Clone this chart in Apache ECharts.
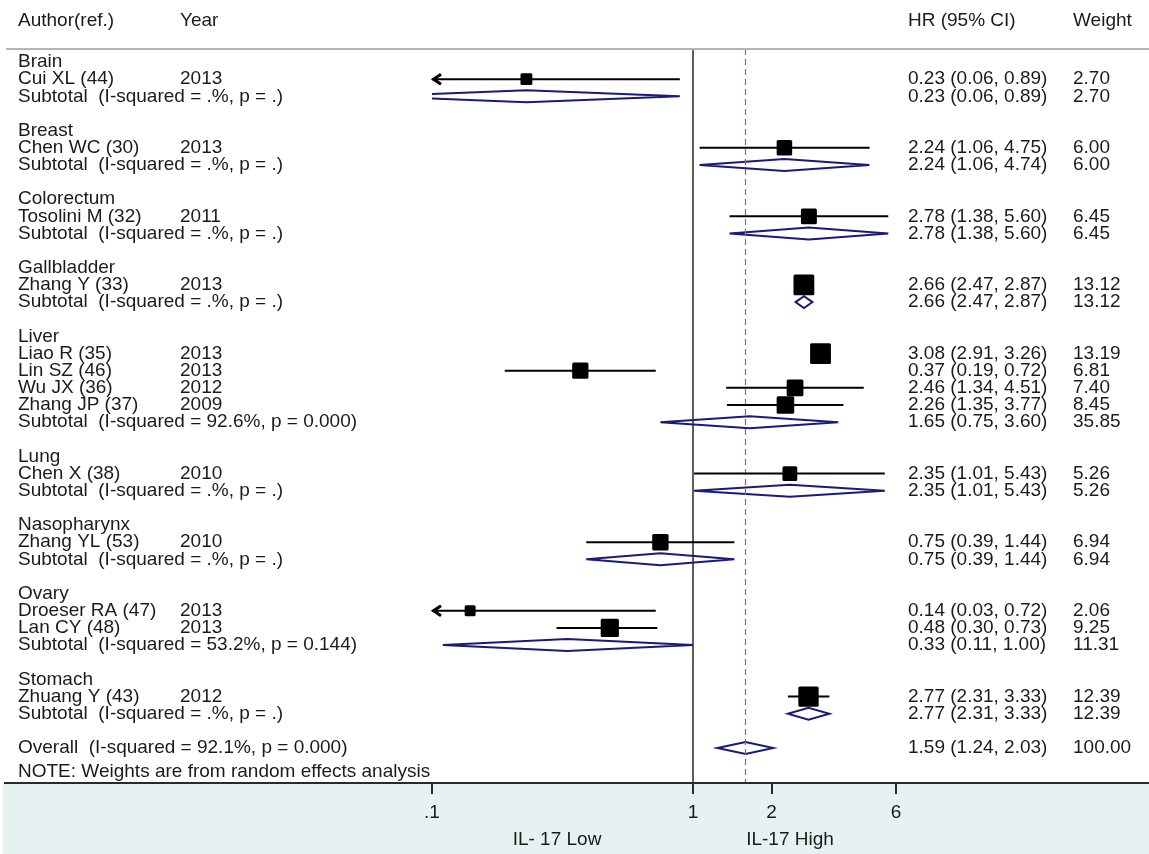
<!DOCTYPE html>
<html>
<head>
<meta charset="utf-8">
<title>IL-17 forest plot</title>
<script src="https://cdn.jsdelivr.net/npm/echarts@6/dist/echarts.min.js"></script>
<style>
  html, body { margin: 0; padding: 0; background: #ffffff; }
  #chart { width: 1149px; height: 854px; }
</style>
</head>
<body>
<div id="chart"></div>
<script>
// ---- Subgroups (tumour sites) ----
const groups = ['Brain', 'Breast', 'Colorectum', 'Gallbladder', 'Liver', 'Lung', 'Nasopharynx', 'Ovary', 'Stomach'];

// ---- Individual studies ----
const studyAuthors = ['Cui XL (44)', 'Chen WC (30)', 'Tosolini M (32)', 'Zhang Y (33)', 'Liao R (35)', 'Lin SZ (46)',
  'Wu JX (36)', 'Zhang JP (37)', 'Chen X (38)', 'Zhang YL (53)', 'Droeser RA (47)', 'Lan CY (48)', 'Zhuang Y (43)'];
const studyYears  = [2013, 2013, 2011, 2013, 2013, 2013, 2012, 2009, 2010, 2010, 2013, 2013, 2012];
const studyGroup  = [0, 1, 2, 3, 4, 4, 4, 4, 5, 6, 7, 7, 8];
const studyHR     = [0.23, 2.24, 2.78, 2.66, 3.08, 0.37, 2.46, 2.26, 2.35, 0.75, 0.14, 0.48, 2.77];
const studyLo     = [0.06, 1.06, 1.38, 2.47, 2.91, 0.19, 1.34, 1.35, 1.01, 0.39, 0.03, 0.30, 2.31];
const studyHi     = [0.89, 4.75, 5.60, 2.87, 3.26, 0.72, 4.51, 3.77, 5.43, 1.44, 0.72, 0.73, 3.33];
const studyWeight = [2.70, 6.00, 6.45, 13.12, 13.19, 6.81, 7.40, 8.45, 5.26, 6.94, 2.06, 9.25, 12.39];

// ---- Pooled subgroup estimates ----
const subHR     = [0.23, 2.24, 2.78, 2.66, 1.65, 2.35, 0.75, 0.33, 2.77];
const subLo     = [0.06, 1.06, 1.38, 2.47, 0.75, 1.01, 0.39, 0.11, 2.31];
const subHi     = [0.89, 4.74, 5.60, 2.87, 3.60, 5.43, 1.44, 1.00, 3.33];
const subWeight = [2.70, 6.00, 6.45, 13.12, 35.85, 5.26, 6.94, 11.31, 12.39];
const subI2     = ['.', '.', '.', '.', '92.6', '.', '.', '53.2', '.'];
const subP      = ['.', '.', '.', '.', '0.000', '.', '.', '0.144', '.'];

// ---- Overall random-effects estimate ----
const overallHR = 1.59, overallLo = 1.24, overallHi = 2.03, overallWeight = 100.00;
const overallI2 = '92.1', overallP = '0.000';

// ---- Axis ----
const tickValues = [0.1, 1, 2, 6];
const tickLabels = ['.1', '1', '2', '6'];
const sideLabels = ['IL- 17 Low', 'IL-17 High'];

// ---- Styling ----
const FONT_FAMILY = '"Liberation Sans", Arial, sans-serif';
const FONT_SIZE = 19;
const FONT = FONT_SIZE + 'px ' + FONT_FAMILY;
const TEXT = '#1b1b1b';
const NAVY = '#1a1a78';
const X_MIN = tickValues[0], X_MAX = tickValues[tickValues.length - 1];
const COL = { label: 18, year: 180, ci: 908, weight: 1073 };

const fmtCI = (hr, lo, hi) => hr.toFixed(2) + ' (' + lo.toFixed(2) + ', ' + hi.toFixed(2) + ')';
const fmtHet = (i2, p) => '(I-squared = ' + i2 + '%, p = ' + p + ')';

// Lay out the table rows: subgroup heading, its studies, its subtotal, a gap
const textRows = [];
const studyRow = [], subRow = [];
let r = 0;
groups.forEach((g, gi) => {
  textRows.push({ row: r, label: g });
  r++;
  studyGroup.forEach((sg, si) => {
    if (sg !== gi) return;
    studyRow[si] = r;
    textRows.push({
      row: r, label: studyAuthors[si], year: String(studyYears[si]),
      ci: fmtCI(studyHR[si], studyLo[si], studyHi[si]), weight: studyWeight[si].toFixed(2)
    });
    r++;
  });
  subRow[gi] = r;
  textRows.push({
    row: r, label: 'Subtotal  ' + fmtHet(subI2[gi], subP[gi]),
    ci: fmtCI(subHR[gi], subLo[gi], subHi[gi]), weight: subWeight[gi].toFixed(2)
  });
  r += 2;
});
const overallRow = r;
textRows.push({
  row: overallRow, label: 'Overall  ' + fmtHet(overallI2, overallP),
  ci: fmtCI(overallHR, overallLo, overallHi), weight: overallWeight.toFixed(2)
});
textRows.push({ row: overallRow + 1.4, label: 'NOTE: Weights are from random effects analysis' });

// Row r sits at 62 + 17.15*r px; the plotting band runs from y=49 to y=783
const ROW_H = 17.15, ROW0 = 62, PLOT_TOP = 49, PLOT_BOTTOM = 783;
const Y_MIN = (PLOT_TOP - ROW0) / ROW_H;
const Y_MAX = (PLOT_BOTTOM - ROW0) / ROW_H;

// Box side grows with the square root of the study weight (box area ~ weight)
const boxSide = w => 4.5 * Math.sqrt(w) + 4.5;

const chart = echarts.init(document.getElementById('chart'), null, { renderer: 'canvas' });

const diamondData = subHR.map((hr, i) => [hr, subRow[i], subLo[i], subHi[i]])
  .concat([[overallHR, overallRow, overallLo, overallHi]]);

const headerText = (x, s) => ({ type: 'text', x: x, y: 21, style: { text: s, font: FONT, fill: TEXT, verticalAlign: 'middle' } });

// Arrowhead marking a confidence limit that runs past the axis range
const arrowHead = (x, y, dir) => ({
  type: 'polyline',
  shape: { points: [[x + dir * 9, y - 5], [x + dir * 1.5, y], [x + dir * 9, y + 5]] },
  style: { stroke: '#000000', lineWidth: 3, fill: 'none', lineJoin: 'miter' }
});

chart.setOption({
  backgroundColor: '#ffffff',
  animation: false,
  grid: { left: 432, top: PLOT_TOP, width: 261 * (1 + Math.log10(X_MAX)), height: PLOT_BOTTOM - PLOT_TOP },
  xAxis: {
    type: 'log', logBase: 10, min: X_MIN, max: X_MAX, position: 'bottom',
    axisLine: { show: false, onZero: false },
    splitLine: { show: false },
    axisTick: { show: true, customValues: tickValues, length: 11, lineStyle: { color: '#2a2a2a', width: 2 } },
    axisLabel: {
      show: true, customValues: tickValues, margin: 20,
      color: TEXT, fontSize: FONT_SIZE, fontFamily: FONT_FAMILY,
      formatter: v => {
        const i = tickValues.findIndex(t => Math.abs(Math.log10(t) - Math.log10(v)) < 1e-6);
        return i >= 0 ? tickLabels[i] : '';
      }
    }
  },
  yAxis: {
    type: 'value', inverse: true, min: Y_MIN, max: Y_MAX, show: false,
    splitLine: { show: false }
  },
  graphic: [
    { type: 'rect', z: -10, shape: { x: 3, y: PLOT_BOTTOM, width: 1146, height: 854 - PLOT_BOTTOM }, style: { fill: '#e6f1f2' } },
    { type: 'line', z: 10, shape: { x1: 4, y1: PLOT_BOTTOM, x2: 1149, y2: PLOT_BOTTOM }, style: { stroke: '#2a2a2a', lineWidth: 2 } },
    { type: 'line', z: 10, shape: { x1: 6, y1: PLOT_TOP, x2: 1149, y2: PLOT_TOP }, style: { stroke: '#b4b4b4', lineWidth: 2 } },
    headerText(COL.label, 'Author(ref.)'),
    headerText(COL.year, 'Year'),
    headerText(COL.ci, 'HR (95% CI)'),
    headerText(COL.weight, 'Weight'),
    { type: 'text', x: 557, y: 840, style: { text: sideLabels[0], font: FONT, fill: TEXT, align: 'center', verticalAlign: 'middle' } },
    { type: 'text', x: 790, y: 840, style: { text: sideLabels[1], font: FONT, fill: TEXT, align: 'center', verticalAlign: 'middle' } }
  ],
  series: [
    // Table text: labels, years, HR (95% CI), weights
    {
      type: 'custom', name: 'table', coordinateSystem: 'cartesian2d', clip: false, silent: true, z: 3,
      data: textRows.map(d => [1, d.row]),
      encode: { x: 0, y: 1 },
      renderItem: (params, api) => {
        const d = textRows[params.dataIndex];
        const y = api.coord([1, api.value(1)])[1];
        const children = [];
        const put = (x, s) => {
          if (s) children.push({ type: 'text', x: x, y: y, style: { text: s, font: FONT, fill: TEXT, align: 'left', verticalAlign: 'middle' } });
        };
        put(COL.label, d.label);
        put(COL.year, d.year);
        put(COL.ci, d.ci);
        put(COL.weight, d.weight);
        return { type: 'group', children: children };
      }
    },
    // Pooled estimates as open diamonds
    {
      type: 'custom', name: 'pooled', coordinateSystem: 'cartesian2d', clip: true, silent: true, z: 4,
      data: diamondData,
      encode: { x: 0, y: 1 },
      renderItem: (params, api) => {
        const row = api.value(1);
        const c = api.coord([api.value(0), row]);
        const l = api.coord([api.value(2), row]);
        const h = api.coord([api.value(3), row]);
        const half = 6;
        return {
          type: 'polygon',
          shape: { points: [[l[0], c[1]], [c[0], c[1] - half], [h[0], c[1]], [c[0], c[1] + half]] },
          style: { fill: 'none', stroke: NAVY, lineWidth: 2 }
        };
      }
    },
    // Individual studies: CI line, clipped-end arrow, weighted box
    {
      type: 'custom', name: 'studies', coordinateSystem: 'cartesian2d', clip: false, silent: true, z: 5,
      data: studyHR.map((hr, i) => [hr, studyRow[i], studyLo[i], studyHi[i], studyWeight[i]]),
      encode: { x: 0, y: 1 },
      renderItem: (params, api) => {
        const hr = api.value(0), row = api.value(1), lo = api.value(2), hi = api.value(3), w = api.value(4);
        const c = api.coord([hr, row]);
        const x1 = api.coord([Math.max(lo, X_MIN), row])[0];
        const x2 = api.coord([Math.min(hi, X_MAX), row])[0];
        const s = boxSide(w);
        const children = [
          { type: 'line', shape: { x1: x1, y1: c[1], x2: x2, y2: c[1] }, style: { stroke: '#000000', lineWidth: 2 } },
          { type: 'rect', shape: { x: c[0] - s / 2, y: c[1] - s / 2, width: s, height: s, r: 1.5 }, style: { fill: '#000000' } }
        ];
        if (lo < X_MIN) children.push(arrowHead(x1, c[1], 1));
        if (hi > X_MAX) children.push(arrowHead(x2, c[1], -1));
        return { type: 'group', children: children };
      },
      markLine: {
        silent: true, symbol: 'none', animation: false,
        label: { show: false },
        data: [
          { xAxis: 1, lineStyle: { color: '#2a2a2a', width: 1.5, type: 'solid' } },
          { xAxis: overallHR, lineStyle: { color: '#b45a55', width: 1.2, type: [6, 4] } }
        ]
      }
    }
  ]
});
</script>
</body>
</html>
